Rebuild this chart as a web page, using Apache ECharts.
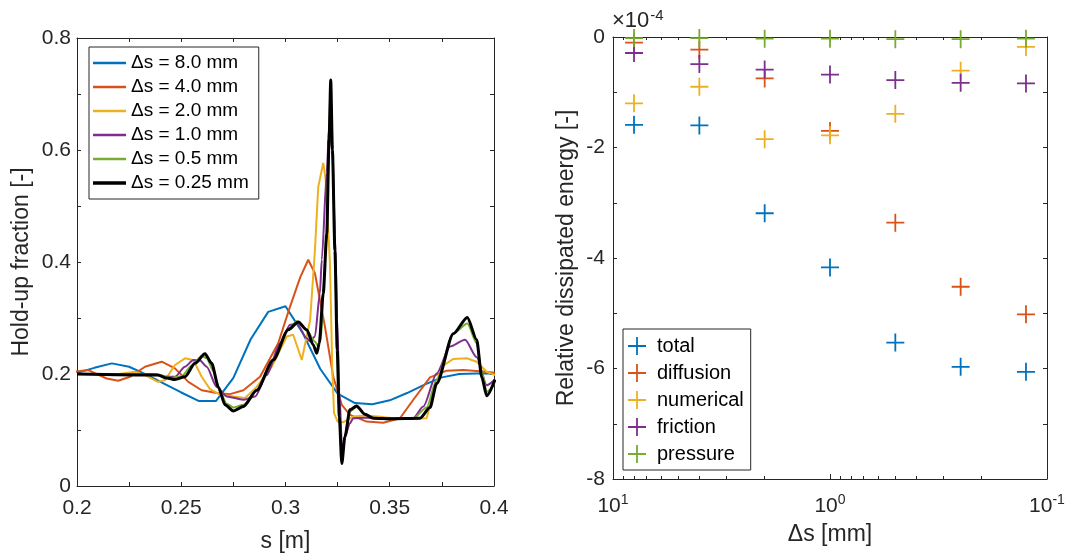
<!DOCTYPE html>
<html>
<head>
<meta charset="utf-8">
<script src="https://cdn.jsdelivr.net/npm/echarts@6/dist/echarts.min.js"></script>
<style>html,body{margin:0;padding:0;background:#fff}#c{width:1067px;height:558px}</style>
</head>
<body>
<div id="c"></div>
<script>
// ---------- Left panel: hold-up fraction profiles ----------
const lineNames = ['Δs = 8.0 mm','Δs = 4.0 mm','Δs = 2.0 mm','Δs = 1.0 mm','Δs = 0.5 mm','Δs = 0.25 mm'];

const s8 = [0.2000,0.2083,0.2167,0.2250,0.2333,0.2417,0.2500,0.2583,0.2667,0.2750,0.2833,0.2917,0.3000,0.3083,0.3167,0.3250,0.3333,0.3417,0.3500,0.3583,0.3667,0.3750,0.3833,0.3917,0.4000];
const h8 = [0.202,0.211,0.219,0.213,0.199,0.183,0.167,0.152,0.152,0.193,0.262,0.311,0.321,0.273,0.209,0.165,0.148,0.146,0.153,0.166,0.181,0.194,0.200,0.201,0.201];

const s4 = [0.1990,0.2054,0.2142,0.2198,0.2254,0.2326,0.2406,0.2470,0.2534,0.2598,0.2670,0.2734,0.2798,0.2878,0.2965,0.3017,0.3070,0.3109,0.3141,0.3189,0.3229,0.3270,0.3309,0.3389,0.3469,0.3549,0.3613,0.3693,0.3773,0.3853,0.3933,0.4005];
const h4 = [0.204,0.207,0.192,0.188,0.195,0.213,0.222,0.210,0.186,0.171,0.166,0.164,0.171,0.195,0.255,0.315,0.372,0.404,0.380,0.285,0.195,0.145,0.127,0.115,0.113,0.121,0.154,0.194,0.206,0.207,0.205,0.202];

const s2 = [0.2000,0.2200,0.2278,0.2326,0.2388,0.2422,0.2470,0.2518,0.2558,0.2598,0.2638,0.2686,0.2750,0.2806,0.2862,0.2934,0.3006,0.3037,0.3078,0.3118,0.3141,0.3157,0.3181,0.3192,0.3213,0.3225,0.3233,0.3250,0.3277,0.3325,0.3381,0.3469,0.3549,0.3677,0.3717,0.3749,0.3805,0.3869,0.3917,0.3965,0.4005];
const h2 = [0.200,0.200,0.204,0.198,0.186,0.189,0.216,0.228,0.225,0.195,0.173,0.163,0.160,0.157,0.177,0.213,0.267,0.270,0.225,0.296,0.420,0.534,0.577,0.550,0.400,0.200,0.130,0.115,0.114,0.124,0.126,0.123,0.120,0.121,0.177,0.213,0.227,0.228,0.222,0.204,0.198];

const s1 = [0.2000,0.2358,0.2422,0.2470,0.2518,0.2558,0.2590,0.2622,0.2670,0.2718,0.2798,0.2854,0.2910,0.2974,0.3022,0.3054,0.3102,0.3118,0.3141,0.3165,0.3174,0.3198,0.3209,0.3225,0.3237,0.3248,0.3258,0.3272,0.3285,0.3309,0.3325,0.3381,0.3501,0.3613,0.3661,0.3725,0.3789,0.3861,0.3917,0.3965,0.4005];
const h1 = [0.200,0.200,0.195,0.195,0.213,0.225,0.224,0.213,0.177,0.160,0.154,0.160,0.198,0.255,0.288,0.290,0.264,0.258,0.267,0.344,0.404,0.560,0.640,0.600,0.450,0.300,0.170,0.060,0.088,0.112,0.121,0.122,0.121,0.121,0.142,0.201,0.249,0.261,0.230,0.180,0.190];

const s05 = [0.2000,0.2388,0.2454,0.2502,0.2550,0.2598,0.2622,0.2654,0.2686,0.2718,0.2750,0.2798,0.2862,0.2941,0.3013,0.3054,0.3102,0.3141,0.3157,0.3170,0.3181,0.3198,0.3209,0.3215,0.3225,0.3237,0.3248,0.3258,0.3270,0.3285,0.3309,0.3341,0.3381,0.3421,0.3501,0.3613,0.3677,0.3725,0.3805,0.3872,0.3917,0.3941,0.3965,0.4005];
const h05 = [0.200,0.199,0.193,0.196,0.215,0.232,0.228,0.205,0.168,0.147,0.140,0.145,0.171,0.225,0.279,0.294,0.278,0.258,0.250,0.262,0.344,0.460,0.630,0.705,0.620,0.420,0.243,0.124,0.050,0.090,0.133,0.141,0.128,0.122,0.121,0.121,0.140,0.190,0.272,0.290,0.255,0.205,0.168,0.185];

const s025 = [0.2000,0.2388,0.2430,0.2470,0.2518,0.2566,0.2614,0.2646,0.2678,0.2710,0.2750,0.2798,0.2862,0.2941,0.3013,0.3061,0.3102,0.3133,0.3150,0.3162,0.3181,0.3198,0.3209,0.3217,0.3225,0.3237,0.3248,0.3258,0.3270,0.3285,0.3309,0.3341,0.3381,0.3421,0.3501,0.3645,0.3693,0.3725,0.3805,0.3872,0.3917,0.3941,0.3965,0.4005];
const h025 = [0.200,0.198,0.193,0.190,0.195,0.219,0.236,0.219,0.177,0.145,0.134,0.142,0.171,0.225,0.279,0.293,0.279,0.252,0.237,0.255,0.344,0.450,0.620,0.725,0.600,0.420,0.243,0.124,0.040,0.088,0.136,0.143,0.128,0.121,0.120,0.121,0.140,0.183,0.272,0.301,0.261,0.195,0.161,0.190];

const lineS = [s8, s4, s2, s1, s05, s025];
const lineH = [h8, h4, h2, h1, h05, h025];

// ---------- Right panel: relative dissipated energy (x 1e-4) ----------
const dsValues = [8, 4, 2, 1, 0.5, 0.25, 0.125];
const energyNames = ['total','diffusion','numerical','friction','pressure'];
const eTotal     = [-1.59, -1.60, -3.19, -4.17, -5.53, -5.97, -6.06];
const eDiffusion = [-0.10, -0.23, -0.75, -1.70, -3.36, -4.52, -5.02];
const eNumerical = [-1.20, -0.90, -1.85, -1.78, -1.39, -0.61, -0.18];
const eFriction  = [-0.29, -0.49, -0.59, -0.68, -0.78, -0.83, -0.84];
const ePressure  = [-0.02, -0.02, -0.03, -0.03, -0.04, -0.04, -0.03];
const energyData = [eTotal, eDiffusion, eNumerical, eFriction, ePressure];
const minorDs = [0.2,0.3,0.4,0.5,0.6,0.7,0.8,0.9,2,3,4,5,6,7,8,9];

// ---------- styles ----------
const FONT = "'Liberation Sans', Arial, Helvetica, sans-serif";
const AX = '#262626';
const mColors = ['#0072BD','#D95319','#EDB120','#7E2F8E','#77AC30','#000000'];
const lineWidths = [2,2,2,2,2,3];
const lineSmooth = [false,false,false,0.25,0.25,0.25];
const PLUS = 'path://M9,0H11V9H20V11H11V20H9V11H0V9H9Z';
const LINE_ICON = 'path://M0,0H40V3H0Z';
const LINE_ICON_BOLD = 'path://M0,0H40V4.5H0Z';

const chart = echarts.init(document.getElementById('c'));

const axLine = {show:true, onZero:false, lineStyle:{color:AX, width:1}};
const tickIn = (len) => ({show:true, inside:true, length:len, lineStyle:{color:AX, width:1}});

const series = [];
lineNames.forEach((n, i) => {
  series.push({
    type:'line', name:n, xAxisIndex:0, yAxisIndex:0,
    data: lineS[i].map((s, j) => [s, lineH[i][j]]),
    showSymbol:false, symbol:'none', smooth: lineSmooth[i], smoothMonotone:'x',
    lineStyle:{color:mColors[i], width:lineWidths[i]}, itemStyle:{color:mColors[i]},
    clip:true, animation:false, z: 2 + i
  });
});
energyNames.forEach((n, i) => {
  series.push({
    type:'scatter', name:n, xAxisIndex:2, yAxisIndex:2,
    data: dsValues.map((d, j) => [d, energyData[i][j]]),
    symbol: PLUS, symbolSize: 18,
    itemStyle:{color:mColors[i], opacity:1}, animation:false, z: 2 + i
  });
});

const option = {
  backgroundColor:'#fff',
  animation:false,
  textStyle:{fontFamily:FONT},
  grid:[
    {left:77, right:573, top:38, bottom:72, outerBoundsMode:'none', containLabel:false},
    {left:613, right:20, top:37, bottom:79, outerBoundsMode:'none', containLabel:false}
  ],
  xAxis:[
    { type:'value', gridIndex:0, position:'bottom', min:0.2, max:0.4, interval:0.025,
      axisLine:axLine, axisTick:tickIn(4), splitLine:{show:false},
      axisLabel:{show:true, margin:12, color:AX, fontSize:21, fontFamily:FONT,
        formatter:(v)=> (Math.round(v*1000) % 50 === 0) ? String(Math.round(v*100)/100) : ''},
      name:'s [m]', nameLocation:'middle', nameGap:44,
      nameTextStyle:{color:AX, fontSize:23, fontFamily:FONT} },
    { type:'value', gridIndex:0, position:'top', min:0.2, max:0.4, interval:0.025,
      axisLine:axLine, axisTick:tickIn(4), axisLabel:{show:false}, splitLine:{show:false} },
    { type:'log', logBase:10, gridIndex:1, position:'bottom', min:0.1, max:10, inverse:true,
      axisLine:axLine, axisTick:tickIn(5), splitLine:{show:false}, minorTick:{show:false},
      axisLabel:{show:true, margin:14, color:AX, fontSize:21, fontFamily:FONT,
        formatter:(v)=> '10{sup|' + Math.round(Math.log10(v)) + '}',
        rich:{sup:{fontSize:14, fontFamily:FONT, color:AX, verticalAlign:'top', padding:[0,0,12,0]}}},
      name:'Δs [mm]', nameLocation:'middle', nameGap:44,
      nameTextStyle:{color:AX, fontSize:23, fontFamily:FONT} },
    { type:'value', gridIndex:1, position:'bottom', min:-1, max:1, inverse:true,
      axisLine:{show:false, onZero:false}, splitLine:{show:false}, axisLabel:{show:false},
      axisTick:{show:true, inside:true, length:3, lineStyle:{color:AX, width:1},
        customValues: minorDs.map(d => Math.log10(d))} },
    { type:'log', logBase:10, gridIndex:1, position:'top', min:0.1, max:10, inverse:true,
      axisLine:axLine, axisTick:tickIn(5), splitLine:{show:false}, axisLabel:{show:false} },
    { type:'value', gridIndex:1, position:'top', min:-1, max:1, inverse:true,
      axisLine:{show:false, onZero:false}, splitLine:{show:false}, axisLabel:{show:false},
      axisTick:{show:true, inside:true, length:3, lineStyle:{color:AX, width:1},
        customValues: minorDs.map(d => Math.log10(d))} }
  ],
  yAxis:[
    { type:'value', gridIndex:0, position:'left', min:0, max:0.8, interval:0.1,
      axisLine:axLine, axisTick:tickIn(4), splitLine:{show:false},
      axisLabel:{show:true, margin:6, color:AX, fontSize:21, fontFamily:FONT,
        formatter:(v)=> (Math.round(v*10) % 2 === 0) ? String(Math.round(v*10)/10) : ''},
      name:'Hold-up fraction [-]', nameLocation:'middle', nameGap:44,
      nameTextStyle:{color:AX, fontSize:23, fontFamily:FONT} },
    { type:'value', gridIndex:0, position:'right', min:0, max:0.8, interval:0.1,
      axisLine:axLine, axisTick:tickIn(4), axisLabel:{show:false}, splitLine:{show:false} },
    { type:'value', gridIndex:1, position:'left', min:-8, max:0, interval:1,
      axisLine:axLine, axisTick:tickIn(4), splitLine:{show:false},
      axisLabel:{show:true, margin:8, color:AX, fontSize:21, fontFamily:FONT,
        formatter:(v)=> (Math.round(v) % 2 === 0) ? (v < 0 ? '-' + Math.abs(Math.round(v)) : '0') : ''},
      name:'Relative dissipated energy [-]', nameLocation:'middle', nameGap:35,
      nameTextStyle:{color:AX, fontSize:23, fontFamily:FONT} },
    { type:'value', gridIndex:1, position:'right', min:-8, max:0, interval:1,
      axisLine:axLine, axisTick:tickIn(4), axisLabel:{show:false}, splitLine:{show:false} }
  ],
  legend:[
    { data: lineNames.map((n, i) => ({name:n, icon: i === 5 ? LINE_ICON_BOLD : LINE_ICON})),
      orient:'vertical', left:89, top:47,
      padding:[6,10,6,4], itemGap:4, itemWidth:33, itemHeight:14,
      backgroundColor:'#fff', borderColor:AX, borderWidth:1, borderRadius:0,
      textStyle:{color:'#000', fontSize:19, fontFamily:FONT, lineHeight:20},
      selectedMode:false },
    { data: energyNames.map(n => ({name:n, icon:PLUS})), orient:'vertical', left:623, top:329,
      padding:[7,7,6,5], itemGap:7, itemWidth:30, itemHeight:18,
      backgroundColor:'#fff', borderColor:AX, borderWidth:1, borderRadius:0,
      textStyle:{color:'#000', fontSize:20, fontFamily:FONT, lineHeight:20},
      selectedMode:false }
  ],
  graphic:[
    { type:'text', left:612, top:8, z:10,
      style:{ text:'×10{sup|-4}', fill:AX, font:'22px ' + FONT,
        rich:{sup:{fontSize:15, fontFamily:FONT, fill:AX, verticalAlign:'top', padding:[0,0,10,1]}} } }
  ],
  series: series
};
chart.setOption(option);
</script>
</body>
</html>
